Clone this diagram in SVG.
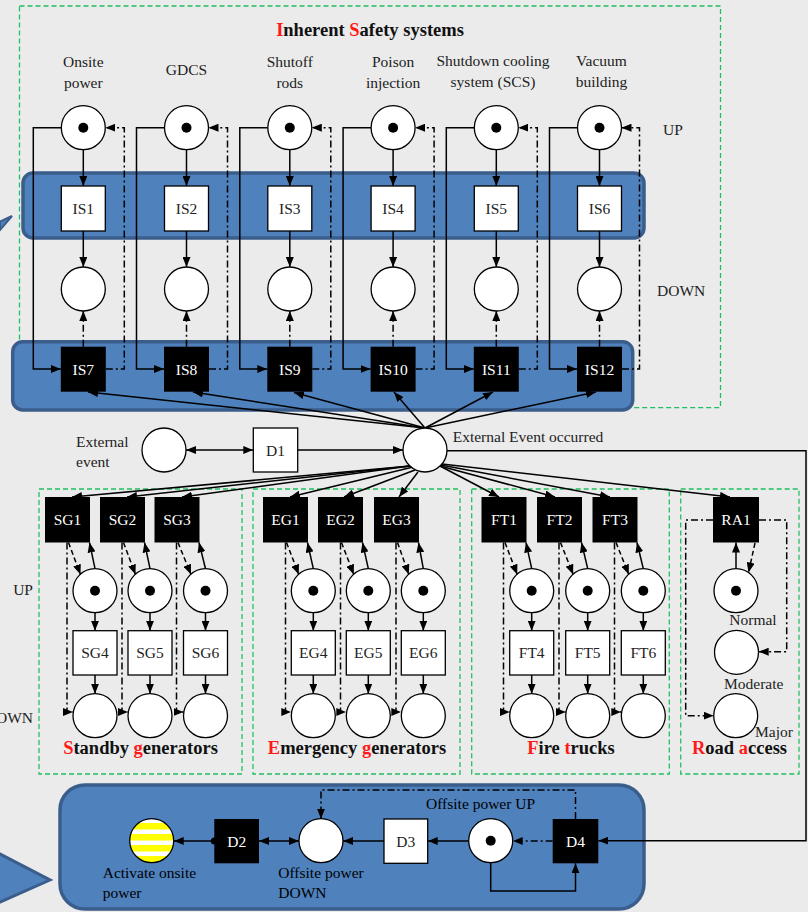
<svg xmlns="http://www.w3.org/2000/svg" width="808" height="912" viewBox="0 0 808 912">
<style>
.s{stroke:#000;stroke-width:1.5;fill:none}
.dd{stroke:#000;stroke-width:1.5;fill:none;stroke-dasharray:7 3 2 3}
.ds{stroke:#000;stroke-width:1.5;fill:none;stroke-dasharray:5 3}
.g{stroke:#22c060;stroke-width:1.3;fill:none;stroke-dasharray:5 3}
.pl{fill:#fff;stroke:#000;stroke-width:1.3}
.tw{fill:#fff;stroke:#000;stroke-width:1.3}
.tb{fill:#000}
.tk{fill:#000}
.band{fill:#4f81bd;stroke:#3a5d8b;stroke-width:3.5}
text{font-family:"Liberation Serif","Times New Roman",serif;font-size:15.5px;fill:#222}
.c{text-anchor:middle}
.w{fill:#fff}
.k{fill:#000}
.ti{font-size:18.5px;font-weight:bold;fill:#111;text-anchor:middle}
.r{fill:#ff1a1a}
</style>
<defs>
<marker id="a" viewBox="0 0 10 8" refX="10" refY="4" markerWidth="10" markerHeight="8" orient="auto-start-reverse" markerUnits="userSpaceOnUse"><path d="M0,0 L10,4 L0,8 z" fill="#000"/></marker>
<pattern id="stripes" patternUnits="userSpaceOnUse" x="0" y="819" width="44" height="11"><rect width="44" height="11" fill="#fff"/><rect y="4" width="44" height="6.5" fill="#ffff00"/></pattern>
</defs>
<rect width="808" height="912" fill="#ebebeb"/>

<g id="frames">
<rect class="g" x="19.5" y="6" width="701" height="401.7"/>
<rect class="g" x="39" y="489" width="203" height="285"/>
<rect class="g" x="253" y="489" width="207" height="285"/>
<rect class="g" x="471.7" y="489" width="197.6" height="285"/>
<rect class="g" x="680.7" y="489" width="118.3" height="285"/>
</g>

<g id="highlights">
<rect class="band" x="23" y="173" width="621" height="65" rx="10"/>
<rect class="band" x="12.7" y="341.7" width="620" height="68.3" rx="10"/>
<rect class="band" x="60" y="785" width="584" height="124" rx="25"/>
<polygon points="0,221.5 12,216 0,230" fill="#4f81bd" stroke="#3a5d8b" stroke-width="2"/>
<polygon points="-2,853 50,880 -2,903" fill="#4f81bd" stroke="#3a5d8b" stroke-width="3"/>
</g>

<g id="connectors">
<path class="s" d="M61.3,127.7 H33.3 V369 H60.8" marker-end="url(#a)"/>
<path class="s" d="M83.3,149.7 V186" marker-end="url(#a)"/>
<path class="s" d="M83.3,231 V267" marker-end="url(#a)"/>
<path class="dd" d="M83.3,346.7 V311" marker-end="url(#a)"/>
<path class="dd" d="M105.8,369 H124.3 V127.7 H105.3" marker-end="url(#a)"/>

<path class="s" d="M164.5,127.7 H136.5 V369 H164" marker-end="url(#a)"/>
<path class="s" d="M186.5,149.7 V186" marker-end="url(#a)"/>
<path class="s" d="M186.5,231 V267" marker-end="url(#a)"/>
<path class="dd" d="M186.5,346.7 V311" marker-end="url(#a)"/>
<path class="dd" d="M209,369 H227.5 V127.7 H208.5" marker-end="url(#a)"/>

<path class="s" d="M267.8,127.7 H239.8 V369 H267.3" marker-end="url(#a)"/>
<path class="s" d="M289.8,149.7 V186" marker-end="url(#a)"/>
<path class="s" d="M289.8,231 V267" marker-end="url(#a)"/>
<path class="dd" d="M289.8,346.7 V311" marker-end="url(#a)"/>
<path class="dd" d="M312.3,369 H330.8 V127.7 H311.8" marker-end="url(#a)"/>

<path class="s" d="M371.1,127.7 H343.1 V369 H370.6" marker-end="url(#a)"/>
<path class="s" d="M393.1,149.7 V186" marker-end="url(#a)"/>
<path class="s" d="M393.1,231 V267" marker-end="url(#a)"/>
<path class="dd" d="M393.1,346.7 V311" marker-end="url(#a)"/>
<path class="dd" d="M415.6,369 H434.1 V127.7 H415.1" marker-end="url(#a)"/>

<path class="s" d="M474.3,127.7 H446.3 V369 H473.8" marker-end="url(#a)"/>
<path class="s" d="M496.3,149.7 V186" marker-end="url(#a)"/>
<path class="s" d="M496.3,231 V267" marker-end="url(#a)"/>
<path class="dd" d="M496.3,346.7 V311" marker-end="url(#a)"/>
<path class="dd" d="M518.8,369 H537.3 V127.7 H518.3" marker-end="url(#a)"/>

<path class="s" d="M577.5,127.7 H549.5 V369 H577" marker-end="url(#a)"/>
<path class="s" d="M599.5,149.7 V186" marker-end="url(#a)"/>
<path class="s" d="M599.5,231 V267" marker-end="url(#a)"/>
<path class="dd" d="M599.5,346.7 V311" marker-end="url(#a)"/>
<path class="dd" d="M622,369 H639.5 V127.7 H621.5" marker-end="url(#a)"/>

<path class="s" d="M425,428 L88,392" marker-end="url(#a)"/>
<path class="s" d="M425,428 L193,392" marker-end="url(#a)"/>
<path class="s" d="M425,428 L294,392.5" marker-end="url(#a)"/>
<path class="s" d="M425,428 L394,392" marker-end="url(#a)"/>
<path class="s" d="M425,428 L493,392" marker-end="url(#a)"/>
<path class="s" d="M425,428 L596,392" marker-end="url(#a)"/>

<path class="s" d="M186,450 H253.3" marker-start="url(#a)" marker-end="url(#a)"/>
<path class="s" d="M297.7,450 H403" marker-end="url(#a)"/>
<path class="s" d="M447,450.7 H806 V840.7 H598.3" marker-end="url(#a)"/>

<path class="s" d="M410,466 L72,497" marker-end="url(#a)"/>
<path class="s" d="M410,466 L127,497" marker-end="url(#a)"/>
<path class="s" d="M410,466 L182,497" marker-end="url(#a)"/>
<path class="s" d="M413,467 L290,497" marker-end="url(#a)"/>
<path class="s" d="M415,470 L344,497" marker-end="url(#a)"/>
<path class="s" d="M418,472 L399,497" marker-end="url(#a)"/>
<path class="s" d="M440,466 L499,497" marker-end="url(#a)"/>
<path class="s" d="M440,466 L555,497" marker-end="url(#a)"/>
<path class="s" d="M441,465 L610,497" marker-end="url(#a)"/>
<path class="s" d="M442,464 L730,497" marker-end="url(#a)"/>

<path class="s" d="M95,568.7 L89.5,542.5" marker-end="url(#a)"/>
<path class="ds" d="M68.5,542.5 L80.5,574.5" marker-end="url(#a)"/>
<path class="dd" d="M67,542.5 V712 H73" marker-end="url(#a)"/>
<path class="s" d="M95,612.7 V630.7" marker-end="url(#a)"/>
<path class="s" d="M95,675 V693.7" marker-end="url(#a)"/>

<path class="s" d="M150,568.7 L144.5,542.5" marker-end="url(#a)"/>
<path class="ds" d="M123.5,542.5 L135.5,574.5" marker-end="url(#a)"/>
<path class="dd" d="M122,542.5 V712 H128" marker-end="url(#a)"/>
<path class="s" d="M150,612.7 V630.7" marker-end="url(#a)"/>
<path class="s" d="M150,675 V693.7" marker-end="url(#a)"/>

<path class="s" d="M205.5,568.7 L199,542.5" marker-end="url(#a)"/>
<path class="ds" d="M178,542.5 L191,574.5" marker-end="url(#a)"/>
<path class="dd" d="M176.5,542.5 V712 H183.5" marker-end="url(#a)"/>
<path class="s" d="M205.5,612.7 V630.7" marker-end="url(#a)"/>
<path class="s" d="M205.5,675 V693.7" marker-end="url(#a)"/>

<path class="s" d="M313.3,568.7 L307.5,542.5" marker-end="url(#a)"/>
<path class="ds" d="M286.5,542.5 L298.8,574.5" marker-end="url(#a)"/>
<path class="dd" d="M285.5,542.5 V712 H291.3" marker-end="url(#a)"/>
<path class="s" d="M313.3,612.7 V630.7" marker-end="url(#a)"/>
<path class="s" d="M313.3,675 V693.7" marker-end="url(#a)"/>

<path class="s" d="M368.3,568.7 L362.5,542.5" marker-end="url(#a)"/>
<path class="ds" d="M341.5,542.5 L353.8,574.5" marker-end="url(#a)"/>
<path class="dd" d="M340.5,542.5 V712 H346.3" marker-end="url(#a)"/>
<path class="s" d="M368.3,612.7 V630.7" marker-end="url(#a)"/>
<path class="s" d="M368.3,675 V693.7" marker-end="url(#a)"/>

<path class="s" d="M423.3,568.7 L418.5,542.5" marker-end="url(#a)"/>
<path class="ds" d="M397.5,542.5 L408.8,574.5" marker-end="url(#a)"/>
<path class="dd" d="M396,542.5 V712 H401.3" marker-end="url(#a)"/>
<path class="s" d="M423.3,612.7 V630.7" marker-end="url(#a)"/>
<path class="s" d="M423.3,675 V693.7" marker-end="url(#a)"/>

<path class="s" d="M531.7,568.7 L526,542.5" marker-end="url(#a)"/>
<path class="ds" d="M505,542.5 L517.2,574.5" marker-end="url(#a)"/>
<path class="dd" d="M503.5,542.5 V712 H509.7" marker-end="url(#a)"/>
<path class="s" d="M531.7,612.7 V630.7" marker-end="url(#a)"/>
<path class="s" d="M531.7,675 V693.7" marker-end="url(#a)"/>

<path class="s" d="M587.7,568.7 L581.5,542.5" marker-end="url(#a)"/>
<path class="ds" d="M560.5,542.5 L573.2,574.5" marker-end="url(#a)"/>
<path class="dd" d="M559,542.5 V712 H565.7" marker-end="url(#a)"/>
<path class="s" d="M587.7,612.7 V630.7" marker-end="url(#a)"/>
<path class="s" d="M587.7,675 V693.7" marker-end="url(#a)"/>

<path class="s" d="M643.3,568.7 L637,542.5" marker-end="url(#a)"/>
<path class="ds" d="M616,542.5 L628.8,574.5" marker-end="url(#a)"/>
<path class="dd" d="M614.5,542.5 V712 H621.3" marker-end="url(#a)"/>
<path class="s" d="M643.3,612.7 V630.7" marker-end="url(#a)"/>
<path class="s" d="M643.3,675 V693.7" marker-end="url(#a)"/>

<path class="s" d="M736,568.7 V542.5" marker-end="url(#a)"/>
<path class="ds" d="M755,543 L748.5,572.5" marker-end="url(#a)"/>
<path class="dd" d="M713,520 H685.7 V715.7 H713.7" marker-end="url(#a)"/>
<path class="dd" d="M759,520 H786.7 V651.7 H758.7" marker-end="url(#a)"/>

<path class="s" d="M214.3,841 H173.7" marker-end="url(#a)"/>
<circle cx="214.3" cy="841" r="3.5" fill="#000"/>
<path class="s" d="M259,841 H299" marker-start="url(#a)" marker-end="url(#a)"/>
<path class="s" d="M384,841 H343" marker-end="url(#a)"/>
<path class="s" d="M468.7,841 H427.7" marker-end="url(#a)"/>
<path class="dd" d="M552.7,841 H512.7" marker-end="url(#a)"/>
<path class="s" d="M490.7,862.7 V891 H575.5 V863.3" marker-end="url(#a)"/>
<path class="dd" d="M575.5,819 V790 H321 V818.7" marker-end="url(#a)"/>
</g>

<g id="top-columns">
<g id="col1">
<circle class="pl" cx="83.3" cy="127.7" r="22"/><circle class="tk" cx="83.3" cy="127.7" r="5"/>
<rect class="tw" x="61.3" y="186" width="44" height="45"/><text class="c" x="83.3" y="214">IS1</text>
<circle class="pl" cx="83.3" cy="289" r="22"/>
<rect class="tb" x="60.8" y="346.7" width="45" height="45"/><text class="c w" x="83.3" y="374.5">IS7</text>
</g>
<g id="col2">
<circle class="pl" cx="186.5" cy="127.7" r="22"/><circle class="tk" cx="186.5" cy="127.7" r="5"/>
<rect class="tw" x="164.5" y="186" width="44" height="45"/><text class="c" x="186.5" y="214">IS2</text>
<circle class="pl" cx="186.5" cy="289" r="22"/>
<rect class="tb" x="164" y="346.7" width="45" height="45"/><text class="c w" x="186.5" y="374.5">IS8</text>
</g>
<g id="col3">
<circle class="pl" cx="289.8" cy="127.7" r="22"/><circle class="tk" cx="289.8" cy="127.7" r="5"/>
<rect class="tw" x="267.8" y="186" width="44" height="45"/><text class="c" x="289.8" y="214">IS3</text>
<circle class="pl" cx="289.8" cy="289" r="22"/>
<rect class="tb" x="267.3" y="346.7" width="45" height="45"/><text class="c w" x="289.8" y="374.5">IS9</text>
</g>
<g id="col4">
<circle class="pl" cx="393.1" cy="127.7" r="22"/><circle class="tk" cx="393.1" cy="127.7" r="5"/>
<rect class="tw" x="371.1" y="186" width="44" height="45"/><text class="c" x="393.1" y="214">IS4</text>
<circle class="pl" cx="393.1" cy="289" r="22"/>
<rect class="tb" x="370.6" y="346.7" width="45" height="45"/><text class="c w" x="393.1" y="374.5">IS10</text>
</g>
<g id="col5">
<circle class="pl" cx="496.3" cy="127.7" r="22"/><circle class="tk" cx="496.3" cy="127.7" r="5"/>
<rect class="tw" x="474.3" y="186" width="44" height="45"/><text class="c" x="496.3" y="214">IS5</text>
<circle class="pl" cx="496.3" cy="289" r="22"/>
<rect class="tb" x="473.8" y="346.7" width="45" height="45"/><text class="c w" x="496.3" y="374.5">IS11</text>
</g>
<g id="col6">
<circle class="pl" cx="599.5" cy="127.7" r="22"/><circle class="tk" cx="599.5" cy="127.7" r="5"/>
<rect class="tw" x="577.5" y="186" width="44" height="45"/><text class="c" x="599.5" y="214">IS6</text>
<circle class="pl" cx="599.5" cy="289" r="22"/>
<rect class="tb" x="577" y="346.7" width="45" height="45"/><text class="c w" x="599.5" y="374.5">IS12</text>
</g>
</g>

<g id="event">
<circle class="pl" cx="164" cy="450" r="22"/>
<rect class="tw" x="253.3" y="428" width="44.4" height="44"/><text class="c" x="275.5" y="456">D1</text>
<circle class="pl" cx="425" cy="450" r="22"/>
</g>

<g id="standby">
<rect class="tb" x="45" y="497" width="45" height="45.5"/><text class="c w" x="67.5" y="525">SG1</text>
<rect class="tb" x="100" y="497" width="45" height="45.5"/><text class="c w" x="122.5" y="525">SG2</text>
<rect class="tb" x="154.5" y="497" width="45" height="45.5"/><text class="c w" x="177" y="525">SG3</text>
<circle class="pl" cx="95" cy="590.7" r="22"/><circle class="tk" cx="95" cy="590.7" r="5"/>
<circle class="pl" cx="150" cy="590.7" r="22"/><circle class="tk" cx="150" cy="590.7" r="5"/>
<circle class="pl" cx="205.5" cy="590.7" r="22"/><circle class="tk" cx="205.5" cy="590.7" r="5"/>
<rect class="tw" x="73" y="630.7" width="44" height="44.3"/><text class="c" x="95" y="658">SG4</text>
<rect class="tw" x="128" y="630.7" width="44" height="44.3"/><text class="c" x="150" y="658">SG5</text>
<rect class="tw" x="183.5" y="630.7" width="44" height="44.3"/><text class="c" x="205.5" y="658">SG6</text>
<circle class="pl" cx="95" cy="715.7" r="22"/>
<circle class="pl" cx="150" cy="715.7" r="22"/>
<circle class="pl" cx="205.5" cy="715.7" r="22"/>
</g>

<g id="emergency">
<rect class="tb" x="263" y="497" width="45" height="45.5"/><text class="c w" x="285.5" y="525">EG1</text>
<rect class="tb" x="318" y="497" width="45" height="45.5"/><text class="c w" x="340.5" y="525">EG2</text>
<rect class="tb" x="374" y="497" width="45" height="45.5"/><text class="c w" x="396.5" y="525">EG3</text>
<circle class="pl" cx="313.3" cy="590.7" r="22"/><circle class="tk" cx="313.3" cy="590.7" r="5"/>
<circle class="pl" cx="368.3" cy="590.7" r="22"/><circle class="tk" cx="368.3" cy="590.7" r="5"/>
<circle class="pl" cx="423.3" cy="590.7" r="22"/><circle class="tk" cx="423.3" cy="590.7" r="5"/>
<rect class="tw" x="291.3" y="630.7" width="44" height="44.3"/><text class="c" x="313.3" y="658">EG4</text>
<rect class="tw" x="346.3" y="630.7" width="44" height="44.3"/><text class="c" x="368.3" y="658">EG5</text>
<rect class="tw" x="401.3" y="630.7" width="44" height="44.3"/><text class="c" x="423.3" y="658">EG6</text>
<circle class="pl" cx="313.3" cy="715.7" r="22"/>
<circle class="pl" cx="368.3" cy="715.7" r="22"/>
<circle class="pl" cx="423.3" cy="715.7" r="22"/>
</g>

<g id="firetrucks">
<rect class="tb" x="481.5" y="497" width="45" height="45.5"/><text class="c w" x="504" y="525">FT1</text>
<rect class="tb" x="537" y="497" width="45" height="45.5"/><text class="c w" x="559.5" y="525">FT2</text>
<rect class="tb" x="592.5" y="497" width="45" height="45.5"/><text class="c w" x="615" y="525">FT3</text>
<circle class="pl" cx="531.7" cy="590.7" r="22"/><circle class="tk" cx="531.7" cy="590.7" r="5"/>
<circle class="pl" cx="587.7" cy="590.7" r="22"/><circle class="tk" cx="587.7" cy="590.7" r="5"/>
<circle class="pl" cx="643.3" cy="590.7" r="22"/><circle class="tk" cx="643.3" cy="590.7" r="5"/>
<rect class="tw" x="509.7" y="630.7" width="44" height="44.3"/><text class="c" x="531.7" y="658">FT4</text>
<rect class="tw" x="565.7" y="630.7" width="44" height="44.3"/><text class="c" x="587.7" y="658">FT5</text>
<rect class="tw" x="621.3" y="630.7" width="44" height="44.3"/><text class="c" x="643.3" y="658">FT6</text>
<circle class="pl" cx="531.7" cy="715.7" r="22"/>
<circle class="pl" cx="587.7" cy="715.7" r="22"/>
<circle class="pl" cx="643.3" cy="715.7" r="22"/>
</g>

<g id="road">
<rect class="tb" x="713" y="497" width="46" height="45.5"/><text class="c w" x="736" y="525">RA1</text>
<circle class="pl" cx="736" cy="590.7" r="22"/><circle class="tk" cx="736" cy="590.7" r="5"/>
<circle class="pl" cx="736.5" cy="652.3" r="22"/>
<circle class="pl" cx="735.7" cy="715.7" r="22"/>
</g>

<g id="bottom">
<circle cx="151.7" cy="840.7" r="22" fill="url(#stripes)" stroke="#000" stroke-width="1.3"/>
<rect class="tb" x="214.3" y="819" width="44.7" height="44.3"/><text class="c w" x="236.7" y="847">D2</text>
<circle class="pl" cx="321" cy="840.7" r="22"/>
<rect class="tw" x="384" y="819" width="43.7" height="44.3"/><text class="c" x="405.8" y="847">D3</text>
<circle class="pl" cx="490.7" cy="840.7" r="22"/><circle class="tk" cx="490.7" cy="840.7" r="5"/>
<rect class="tb" x="552.7" y="819" width="45.6" height="44.3"/><text class="c w" x="575.5" y="847">D4</text>
</g>

<g id="labels">
<text x="370" y="36" class="ti"><tspan class="r">I</tspan>nherent <tspan class="r">S</tspan>afety systems</text>
<text class="c" x="83.3" y="67">Onsite</text><text class="c" x="83.3" y="88">power</text>
<text class="c" x="186.5" y="75">GDCS</text>
<text class="c" x="289.8" y="67">Shutoff</text><text class="c" x="289.8" y="88">rods</text>
<text class="c" x="393.1" y="67">Poison</text><text class="c" x="393.1" y="88">injection</text>
<text class="c" x="493" y="66">Shutdown cooling</text><text class="c" x="493" y="87">system (SCS)</text>
<text class="c" x="601.5" y="66">Vacuum</text><text class="c" x="601.5" y="87">building</text>
<text x="663" y="135">UP</text>
<text x="657" y="296">DOWN</text>
<text x="76" y="446.5">External</text>
<text x="76" y="467">event</text>
<text x="452.7" y="442">External Event occurred</text>
<text x="33" y="595" text-anchor="end">UP</text>
<text x="33" y="723" text-anchor="end">DOWN</text>
<text class="c" x="753" y="625">Normal</text>
<text x="724" y="688.5">Moderate</text>
<text x="755" y="736.5">Major</text>
<text x="140.5" y="754" class="ti"><tspan class="r">S</tspan>tandby <tspan class="r">g</tspan>enerators</text>
<text x="357" y="754" class="ti"><tspan class="r">E</tspan>mergency <tspan class="r">g</tspan>enerators</text>
<text x="571" y="754" class="ti"><tspan class="r">F</tspan>ire <tspan class="r">t</tspan>rucks</text>
<text x="739.5" y="754" class="ti"><tspan class="r">R</tspan>oad <tspan class="r">a</tspan>ccess</text>
<text x="426" y="809" class="k">Offsite power UP</text>
<text x="102.7" y="878" class="k">Activate onsite</text>
<text x="102.7" y="898" class="k">power</text>
<text x="278.3" y="878" class="k">Offsite power</text>
<text x="278.3" y="898" class="k">DOWN</text>
</g>
</svg>
